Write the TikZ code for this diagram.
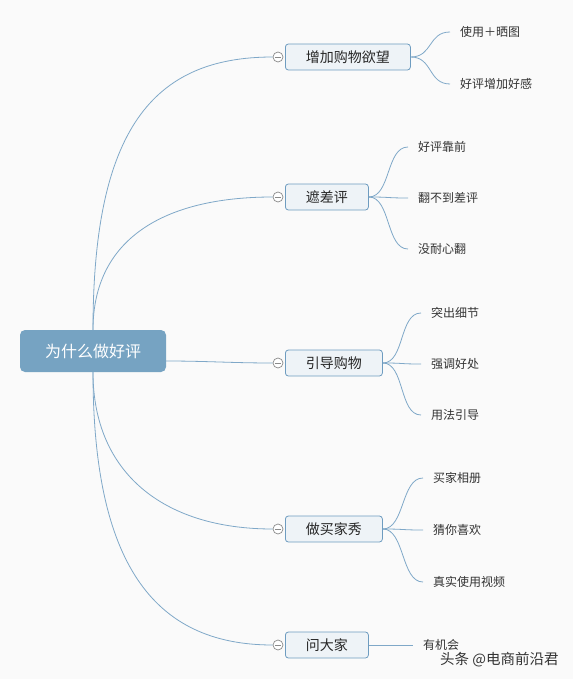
\documentclass[tikz,border=0pt]{standalone}
\usepackage{fontspec}
\setmainfont{Noto Sans CJK SC}
\usetikzlibrary{calc}
\definecolor{bgc}{HTML}{FAFAFA}
\definecolor{linec}{HTML}{7FA8C8}
\definecolor{boxborder}{HTML}{6E9CC0}
\definecolor{boxfill}{HTML}{EEF3F7}
\definecolor{rootfill}{HTML}{76A3C2}
\definecolor{txt}{HTML}{333333}
\definecolor{markc}{HTML}{8A8A8A}
\tikzset{
  rootbox/.style={draw=none, fill=rootfill, rounded corners=5pt, minimum width=146pt, minimum height=42pt, text=white, font=\fontsize{16pt}{16pt}\selectfont},
  branchbox/.style={draw=boxborder, line width=0.8pt, fill=boxfill, rounded corners=3pt, anchor=west, minimum height=26pt, inner xsep=20.5pt, text=black!85, font=\fontsize{14pt}{14pt}\selectfont},
  leaf/.style={anchor=west, inner xsep=10pt, inner ysep=2pt, text=txt, font=\fontsize{12pt}{12pt}\selectfont},
  foldmark/.style={circle, draw=markc, fill=white, line width=0.7pt, minimum size=10pt, inner sep=0pt, path picture={\draw[markc, line width=0.7pt] ($(path picture bounding box.west)+(2pt,0)$) -- ($(path picture bounding box.east)+(-2pt,0)$);}},
  conn/.style={draw=linec, line width=0.8pt},
}
\begin{document}
\begin{tikzpicture}[x=1pt,y=-1pt]
\fill[bgc] (0,0) rectangle (573,679);
\useasboundingbox (0,0) rectangle (573,679);

\node[rootbox] (root) at (93,351) {为什么做好评};

% branch boxes
\node[branchbox] (b1) at (285,57) {增加购物欲望};
\node[branchbox] (b2) at (285,197) {遮差评};
\node[branchbox] (b3) at (285,363) {引导购物};
\node[branchbox] (b4) at (285,529) {做买家秀};
\node[branchbox] (b5) at (285,645) {问大家};

% collapse markers
\node[foldmark] (m1) at (278,57) {};
\node[foldmark] (m2) at (278,197) {};
\node[foldmark] (m3) at (278,363) {};
\node[foldmark] (m4) at (278,529) {};
\node[foldmark] (m5) at (278,645) {};

% root connectors
\draw[conn] (root.north) .. controls +(0,-200) and +(-120,0) .. (m1.west);
\draw[conn] (root.north) .. controls +(0,-90) and +(-110,0) .. (m2.west);
\draw[conn] ($(root.east)+(0,10)$) .. controls +(40,0) and +(-40,0) .. (m3.west);
\draw[conn] (root.south) .. controls +(0,100) and +(-110,0) .. (m4.west);
\draw[conn] (root.south) .. controls +(0,190) and +(-120,0) .. (m5.west);

% leaves branch 1
\node[leaf] (l11) at (450,32) {使用＋晒图};
\node[leaf] (l12) at (450,84) {好评增加好感};
% branch 2
\node[leaf] (l21) at (408,147) {好评靠前};
\node[leaf] (l22) at (408,198) {翻不到差评};
\node[leaf] (l23) at (408,249) {没耐心翻};
% branch 3
\node[leaf] (l31) at (421,313) {突出细节};
\node[leaf] (l32) at (421,364) {强调好处};
\node[leaf] (l33) at (421,415) {用法引导};
% branch 4
\node[leaf] (l41) at (423,478) {买家相册};
\node[leaf] (l42) at (423,530) {猜你喜欢};
\node[leaf] (l43) at (423,582) {真实使用视频};
% branch 5
\node[leaf] (l51) at (413,645) {有机会};

\foreach \b/\l in {b1/l11,b1/l12,b2/l21,b2/l22,b2/l23,b3/l31,b3/l32,b3/l33,b4/l41,b4/l42,b4/l43,b5/l51}{
  \draw[conn] (\b.east) .. controls +(22,0) and +(-22,0) .. (\l.west);
}

% watermark
\node[anchor=west, inner sep=0pt, text=black!80, font=\fontsize{14.5pt}{14.5pt}\selectfont] (wm) at (440,660) {头条 @电商前沿君};
\end{tikzpicture}
\end{document}
